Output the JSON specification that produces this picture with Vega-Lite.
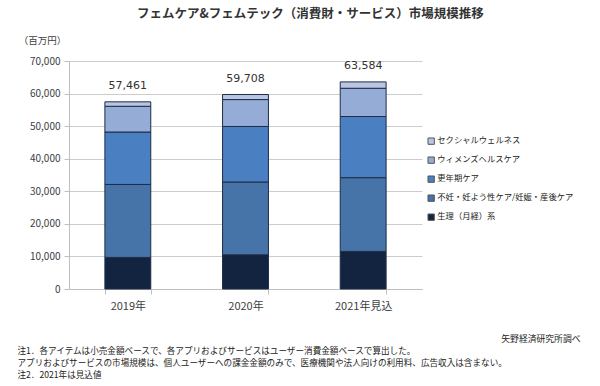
{
  "$schema": "https://vega.github.io/schema/vega-lite/v6.json",
  "width": 353,
  "height": 228,
  "autosize": {"type": "none"},
  "padding": {"left": 69, "top": 61, "right": 178, "bottom": 97},
  "background": "white",
  "config": {
    "font": "Noto Sans CJK JP",
    "view": {"stroke": null},
    "axis": {"labelColor": "#404040", "titleColor": "#404040"}
  },
  "title": {
    "text": "フェムケア&フェムテック（消費財・サービス）市場規模推移",
    "anchor": "start",
    "frame": "group",
    "dx": 68,
    "offset": 15,
    "fontSize": 12.5,
    "fontWeight": "bold",
    "color": "#333333",
    "font": "Noto Sans CJK JP"
  },
  "datasets": {
    "stack": [
      {"year": "2019年", "series": "生理（月経）系", "k": 1, "value": 9700},
      {"year": "2019年", "series": "不妊・妊よう性ケア/妊娠・産後ケア", "k": 2, "value": 22400},
      {"year": "2019年", "series": "更年期ケア", "k": 3, "value": 16100},
      {"year": "2019年", "series": "ウィメンズヘルスケア", "k": 4, "value": 7900},
      {"year": "2019年", "series": "セクシャルウェルネス", "k": 5, "value": 1361},
      {"year": "2020年", "series": "生理（月経）系", "k": 1, "value": 10500},
      {"year": "2020年", "series": "不妊・妊よう性ケア/妊娠・産後ケア", "k": 2, "value": 22360},
      {"year": "2020年", "series": "更年期ケア", "k": 3, "value": 17040},
      {"year": "2020年", "series": "ウィメンズヘルスケア", "k": 4, "value": 8260},
      {"year": "2020年", "series": "セクシャルウェルネス", "k": 5, "value": 1548},
      {"year": "2021年見込", "series": "生理（月経）系", "k": 1, "value": 11530},
      {"year": "2021年見込", "series": "不妊・妊よう性ケア/妊娠・産後ケア", "k": 2, "value": 22650},
      {"year": "2021年見込", "series": "更年期ケア", "k": 3, "value": 18780},
      {"year": "2021年見込", "series": "ウィメンズヘルスケア", "k": 4, "value": 8670},
      {"year": "2021年見込", "series": "セクシャルウェルネス", "k": 5, "value": 1954}
    ],
    "totals": [
      {"year": "2019年", "total": 57461},
      {"year": "2020年", "total": 59708},
      {"year": "2021年見込", "total": 63584}
    ]
  },
  "layer": [
    {
      "data": {"name": "stack"},
      "mark": {"type": "bar", "stroke": "#1e2d48", "strokeWidth": 1},
      "encoding": {
        "x": {
          "field": "year",
          "type": "nominal",
          "sort": null,
          "scale": {"paddingInner": 0.61, "paddingOuter": 0.305},
          "axis": {
            "title": ["注1．各アイテムは小売金額ベースで、各アプリおよびサービスはユーザー消費金額ベースで算出した。", "アプリおよびサービスの市場規模は、個人ユーザーへの課金金額のみで、医療機関や法人向けの利用料、広告収入は含まない。", "注2．2021年は見込値"],
            "titleAnchor": "start",
            "titleAlign": "left",
            "titleBaseline": "top",
            "titleX": -52,
            "titleY": 57,
            "titleFontSize": 8.6,
            "titleFontWeight": "normal",
            "titleLineHeight": 12,
            "titleColor": "#222222",
            "labelAngle": 0,
            "labelFontSize": 11,
            "labelPadding": 6,
            "tickBand": "extent",
            "tickSize": 5,
            "tickColor": "#bfbfbf",
            "domainColor": "#bfbfbf",
            "grid": false
          }
        },
        "y": {
          "field": "value",
          "type": "quantitative",
          "stack": "zero",
          "scale": {"domain": [0, 70000], "nice": false},
          "axis": {
            "title": "（百万円）",
            "titleAngle": 0,
            "titleX": -27,
            "titleY": -21,
            "titleAlign": "center",
            "titleBaseline": "middle",
            "titleFontSize": 9.5,
            "titleFontWeight": "normal",
            "values": [0, 10000, 20000, 30000, 40000, 50000, 60000, 70000],
            "format": ",d",
            "labelFontSize": 10,
            "labelPadding": 4,
            "tickSize": 5,
            "tickColor": "#bfbfbf",
            "domainColor": "#bfbfbf",
            "grid": true,
            "gridColor": "#cccccc"
          }
        },
        "color": {
          "field": "series",
          "type": "nominal",
          "scale": {
            "domain": ["セクシャルウェルネス", "ウィメンズヘルスケア", "更年期ケア", "不妊・妊よう性ケア/妊娠・産後ケア", "生理（月経）系"],
            "range": ["#b9c6e2", "#94acd6", "#4a7fc1", "#4673a8", "#122440"]
          },
          "legend": {
            "title": null,
            "orient": "none",
            "legendX": 358,
            "legendY": 76,
            "symbolType": "square",
            "symbolSize": 40,
            "symbolStrokeColor": "#555555",
            "symbolStrokeWidth": 1,
            "labelFontSize": 8.3,
            "labelColor": "#222222",
            "rowPadding": 7,
            "labelOffset": 2
          }
        },
        "order": {"field": "k", "type": "quantitative"}
      }
    },
    {
      "data": {"name": "totals"},
      "mark": {"type": "text", "dy": -16, "fontSize": 11, "color": "#333333", "font": "DejaVu Sans"},
      "encoding": {
        "x": {
          "field": "year",
          "type": "nominal",
          "sort": null,
          "axis": {
            "title": "矢野経済研究所調べ",
            "labels": false,
            "ticks": false,
            "domain": false,
            "titleAnchor": "end",
            "titleAlign": "right",
            "titleBaseline": "middle",
            "titleX": 511,
            "titleY": 277,
            "titleFontSize": 8.8,
            "titleFontWeight": "normal",
            "titleColor": "#222222"
          }
        },
        "y": {
          "field": "total",
          "type": "quantitative",
          "axis": {
            "title": "（百万円）",
            "titleAngle": 0,
            "titleX": -27,
            "titleY": -21,
            "titleAlign": "center",
            "titleBaseline": "middle",
            "titleFontSize": 9.5,
            "titleFontWeight": "normal",
            "values": [0, 10000, 20000, 30000, 40000, 50000, 60000, 70000],
            "format": ",d",
            "labelFontSize": 10,
            "labelPadding": 4,
            "tickSize": 5,
            "tickColor": "#bfbfbf",
            "domainColor": "#bfbfbf",
            "grid": true,
            "gridColor": "#cccccc"
          }
        },
        "text": {"field": "total", "type": "quantitative", "format": ","}
      }
    }
  ],
  "resolve": {"axis": {"x": "independent"}}
}
